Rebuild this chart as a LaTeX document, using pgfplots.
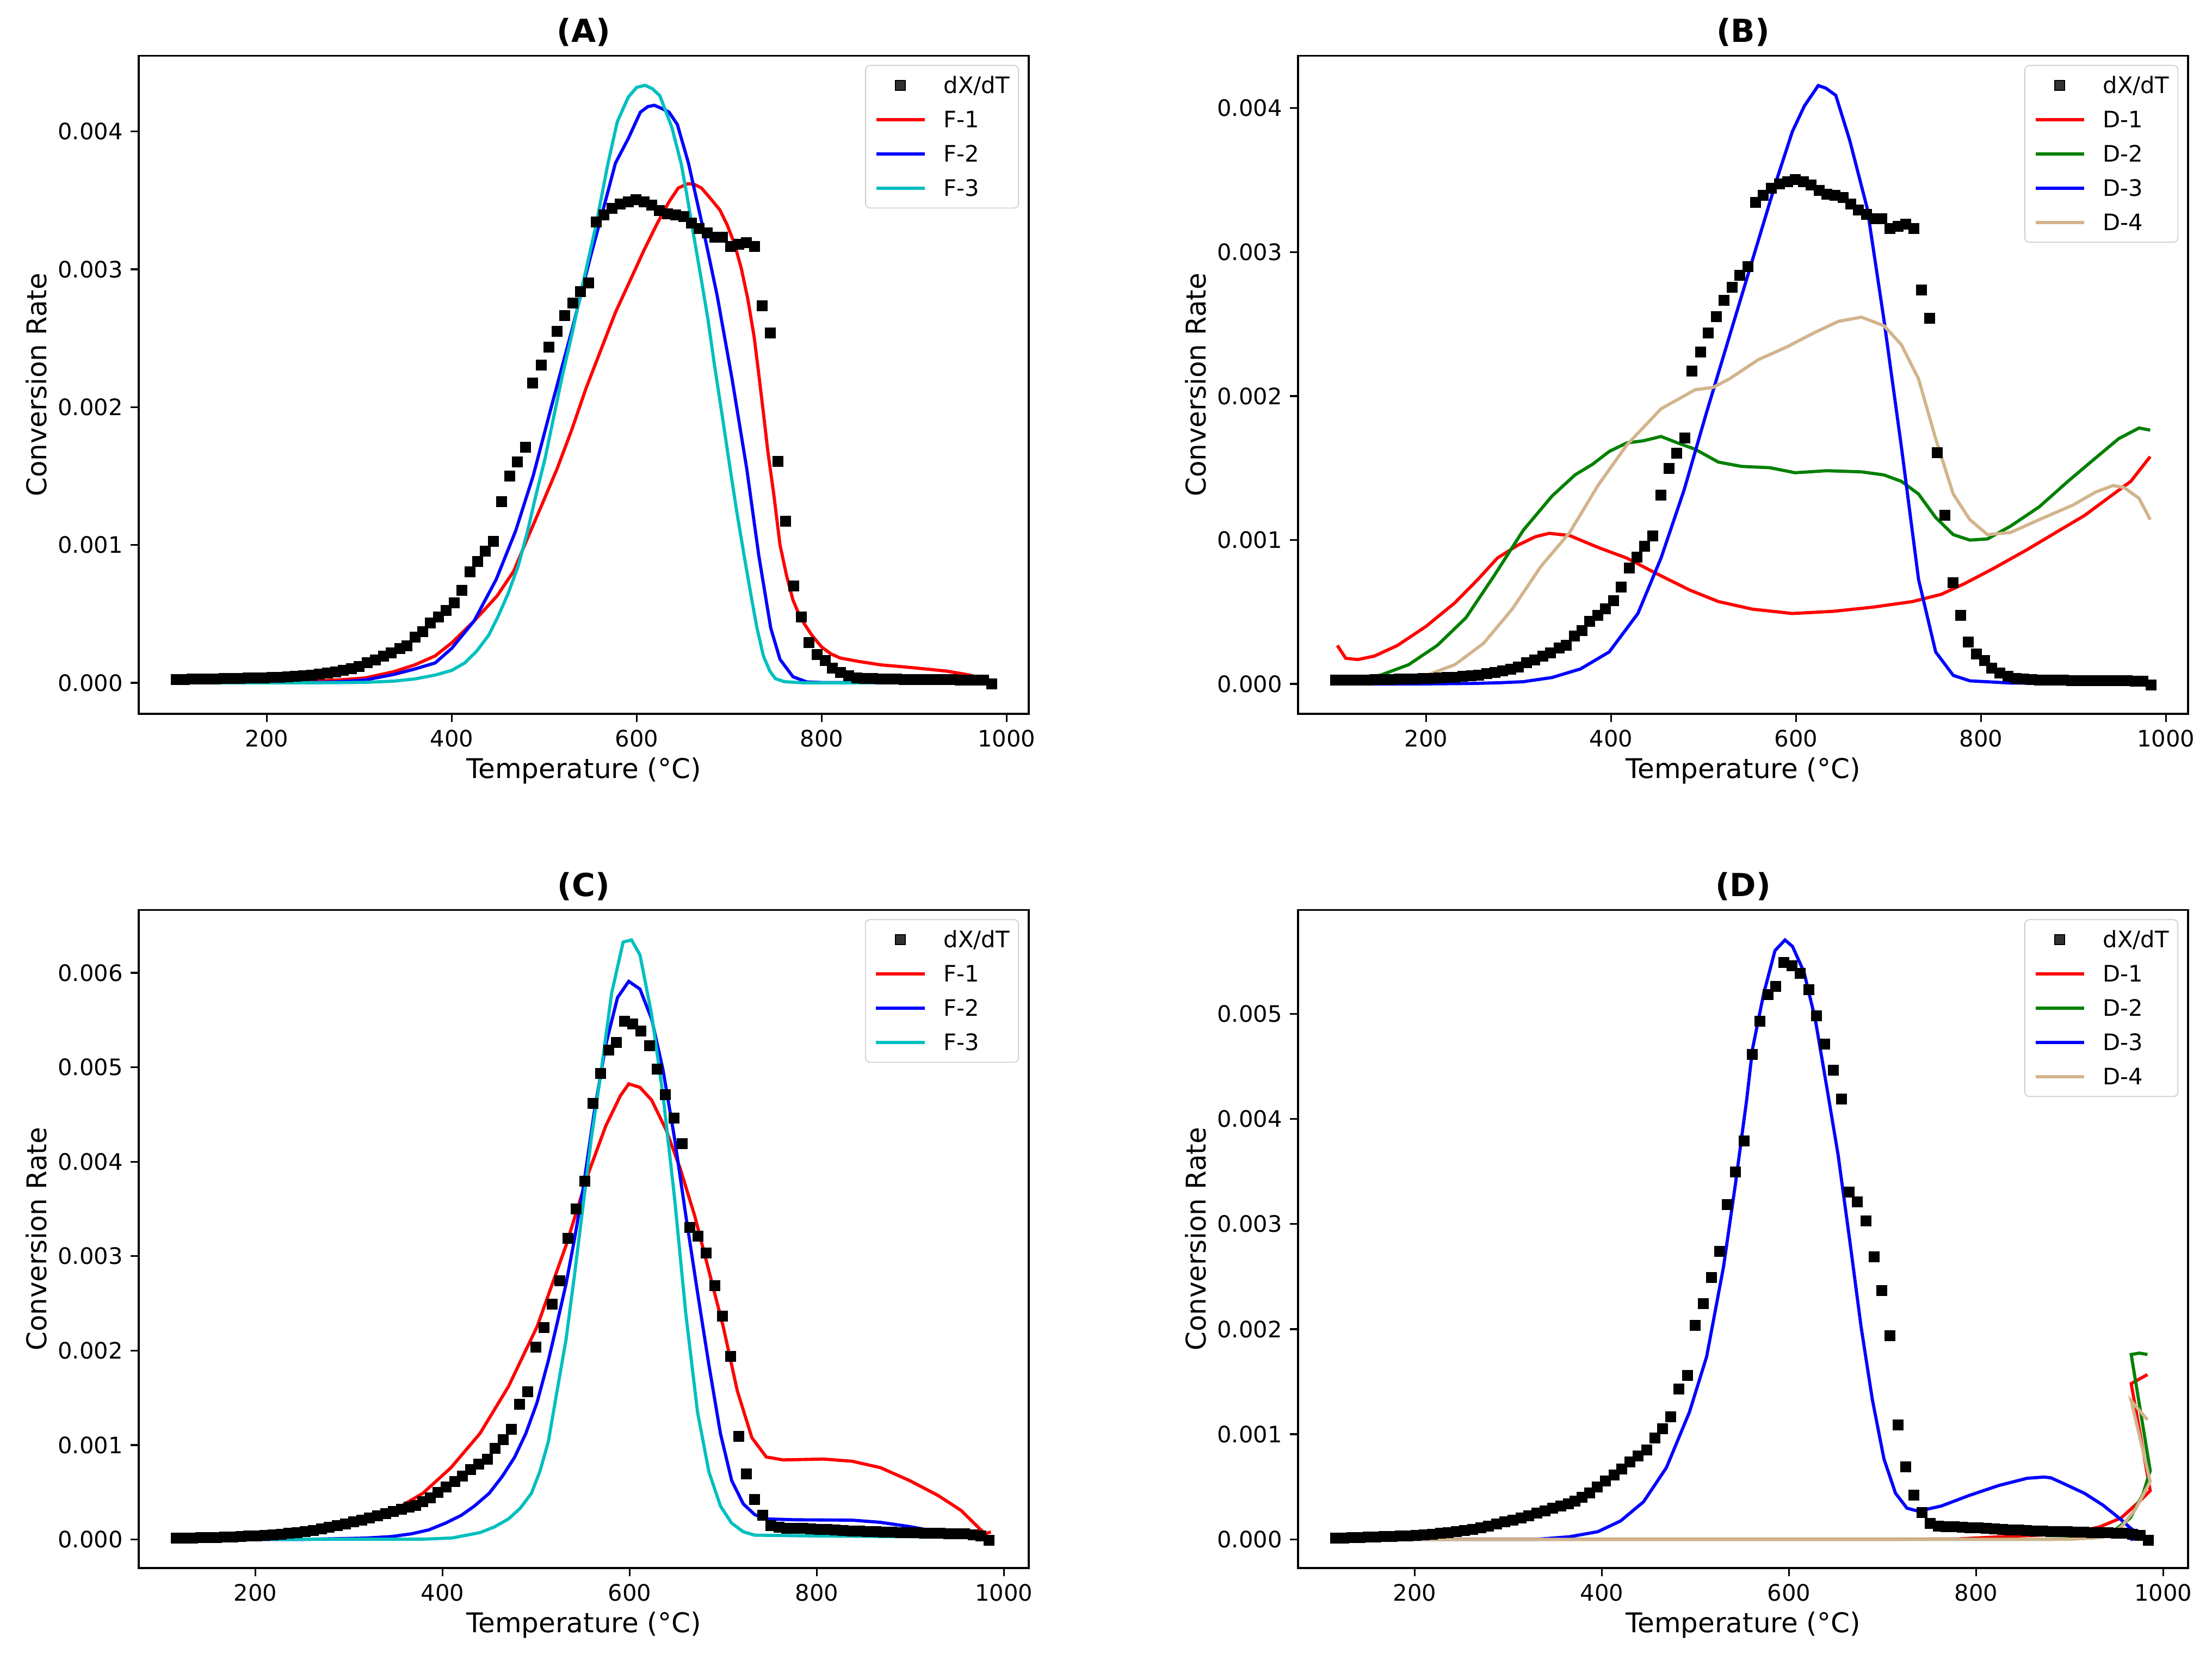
\documentclass[border=0pt]{standalone}
\usepackage{pgfplots}
\usepackage{pgfplotstable}
\pgfplotsset{compat=1.18}
\usepackage{fontspec}
\setmainfont{DejaVu Sans}
\definecolor{mplcyan}{rgb}{0,0.75,0.75}
\definecolor{mplgreen}{rgb}{0,0.5,0}
\definecolor{mpltan}{HTML}{D2B48C}

\pgfplotstableread{
T v
102.2 0.025e-3
110.8 0.025e-3
119.4 0.026e-3
128.0 0.027e-3
136.6 0.028e-3
145.2 0.029e-3
153.8 0.030e-3
162.4 0.031e-3
171.0 0.032e-3
179.6 0.034e-3
188.2 0.035e-3
196.8 0.037e-3
205.4 0.039e-3
214.0 0.041e-3
222.6 0.044e-3
231.2 0.047e-3
239.8 0.051e-3
248.4 0.056e-3
257.0 0.062e-3
265.6 0.070e-3
274.2 0.079e-3
282.8 0.090e-3
291.4 0.103e-3
300.0 0.118e-3
308.4 0.146e-3
317.6 0.167e-3
326.3 0.192e-3
334.4 0.217e-3
343.7 0.248e-3
351.7 0.269e-3
360.4 0.331e-3
368.4 0.372e-3
377.1 0.433e-3
385.8 0.477e-3
393.8 0.523e-3
402.5 0.579e-3
411.1 0.672e-3
419.8 0.805e-3
427.9 0.879e-3
436.5 0.957e-3
445.2 1.028e-3
453.9 1.313e-3
462.5 1.498e-3
471.2 1.604e-3
479.9 1.709e-3
487.3 2.173e-3
496.6 2.307e-3
505.3 2.437e-3
513.9 2.551e-3
522.0 2.663e-3
530.7 2.755e-3
539.3 2.839e-3
548.0 2.901e-3
556.0 3.344e-3
564.7 3.393e-3
573.4 3.443e-3
582.0 3.474e-3
590.7 3.489e-3
599.4 3.505e-3
608.0 3.489e-3
616.1 3.467e-3
624.8 3.427e-3
633.4 3.402e-3
642.1 3.396e-3
650.8 3.381e-3
659.4 3.334e-3
667.5 3.294e-3
676.2 3.263e-3
684.8 3.232e-3
692.9 3.232e-3
701.5 3.164e-3
710.2 3.180e-3
718.9 3.195e-3
727.6 3.164e-3
735.6 2.737e-3
744.3 2.539e-3
752.9 1.607e-3
761.0 1.173e-3
769.7 0.703e-3
778.3 0.477e-3
786.4 0.291e-3
795.0 0.207e-3
803.7 0.161e-3
811.8 0.108e-3
820.4 0.074e-3
829.1 0.053e-3
837.8 0.037e-3
846.4 0.033e-3
855.0 0.030e-3
863.6 0.028e-3
872.2 0.027e-3
880.8 0.026e-3
889.4 0.025e-3
898.0 0.024e-3
906.6 0.024e-3
915.2 0.023e-3
923.8 0.023e-3
932.4 0.022e-3
941.0 0.022e-3
949.6 0.021e-3
958.2 0.021e-3
966.8 0.020e-3
975.4 0.020e-3
984.0 -0.008e-3
}\dxA

\pgfplotstableread{
T v
115.5 0.012e-3
124.0 0.014e-3
133.0 0.016e-3
141.5 0.018e-3
150.0 0.020e-3
158.5 0.022e-3
167.0 0.025e-3
176.0 0.028e-3
184.5 0.031e-3
193.0 0.035e-3
201.5 0.039e-3
210.0 0.044e-3
219.0 0.050e-3
227.5 0.057e-3
236.0 0.065e-3
244.5 0.074e-3
253.0 0.085e-3
262.0 0.097e-3
270.5 0.111e-3
279.0 0.127e-3
287.5 0.145e-3
296.0 0.165e-3
305.0 0.185e-3
313.5 0.205e-3
322.0 0.226e-3
330.5 0.248e-3
339.0 0.272e-3
347.5 0.296e-3
356.0 0.318e-3
364.5 0.340e-3
371.0 0.362e-3
379.0 0.398e-3
386.7 0.443e-3
395.0 0.498e-3
404.0 0.557e-3
413.0 0.611e-3
421.5 0.670e-3
430.0 0.738e-3
438.7 0.796e-3
447.9 0.851e-3
456.4 0.964e-3
465.0 1.054e-3
473.6 1.167e-3
482.0 1.430e-3
491.3 1.561e-3
499.9 2.036e-3
508.4 2.244e-3
517.0 2.489e-3
525.6 2.742e-3
534.0 3.186e-3
542.7 3.498e-3
551.9 3.792e-3
560.5 4.615e-3
569.0 4.932e-3
577.6 5.181e-3
586.0 5.262e-3
594.7 5.489e-3
603.3 5.457e-3
611.9 5.385e-3
621.0 5.231e-3
629.6 4.982e-3
638.0 4.710e-3
647.4 4.462e-3
655.9 4.190e-3
664.5 3.303e-3
673.0 3.213e-3
682.0 3.032e-3
690.8 2.688e-3
699.4 2.367e-3
708.0 1.937e-3
716.5 1.090e-3
725.0 0.692e-3
733.7 0.421e-3
742.2 0.253e-3
750.8 0.149e-3
759.4 0.127e-3
768.0 0.120e-3
776.5 0.118e-3
785.0 0.115e-3
793.6 0.112e-3
802.0 0.108e-3
811.0 0.105e-3
819.5 0.100e-3
828.0 0.095e-3
837.0 0.090e-3
845.5 0.087e-3
854.0 0.084e-3
863.0 0.081e-3
871.5 0.078e-3
880.0 0.076e-3
889.0 0.074e-3
897.5 0.072e-3
906.0 0.070e-3
915.0 0.068e-3
923.5 0.066e-3
932.0 0.064e-3
941.0 0.062e-3
949.5 0.060e-3
958.0 0.058e-3
967.0 0.050e-3
975.5 0.036e-3
984.0 -0.010e-3
}\dxC

\pgfplotsset{
  panel/.style={
    scale only axis, width=392.64pt, height=290.2pt,
    anchor=south west,
    axis line style={line width=0.8pt},
    tick align=outside, tick pos=left,
    major tick length=3.5pt,
    tick style={line width=0.8pt, black},
    xtick={200,400,600,800,1000},
    x tick label style={/pgf/number format/.cd, 1000 sep={}, /tikz/.cd},
    scaled y ticks=false,
    y tick label style={/pgf/number format/.cd, fixed, fixed zerofill, precision=3, /tikz/.cd},
    /pgf/number format/assume math mode=true,
    tick label style={font=\fontsize{10}{12}\selectfont},
    xlabel={Temperature (°C)}, ylabel={Conversion Rate},
    label style={font=\fontsize{12}{14}\selectfont},
    xlabel style={at={(axis description cs:0.5,-0.0981)}, anchor=base},
    ylabel style={at={(axis description cs:-0.1037,0.5)}, anchor=base},
    title style={at={(axis description cs:0.5,1)}, anchor=base, font=\bfseries\fontsize{14}{17}\selectfont},
    legend cell align=left,
    legend style={at={(axis description cs:1,1)}, anchor=north east, xshift=-4.3pt, yshift=-4pt,
      draw=black!20, rounded corners=2pt, fill=white, fill opacity=0.8, text opacity=1,
      inner xsep=4pt, inner ysep=4.8pt, row sep=7.1pt, column sep=7.7pt,
      font=\fontsize{10}{12}\selectfont,
      nodes={inner sep=0pt, text height=7.6pt, text depth=0.4pt}},
    legend image code/.code={\draw[#1] (0pt,0pt) -- (21.4pt,0pt);},
  },
  dxstyle/.style={only marks, mark=square*, mark size=2.2pt, black,
    legend image code/.code={\draw[mark repeat=2,mark phase=2,#1] plot coordinates {(0pt,0pt) (10.7pt,0pt) (21.4pt,0pt)};}},
  ln/.style={no marks, line width=1.4pt, #1},
}

\begin{document}
\begin{tikzpicture}
\useasboundingbox (0,0) rectangle (975.84pt,729.6pt);

% ---------------- (A)
\begin{axis}[panel, at={(61.2pt,414.72pt)}, xmin=61.5, xmax=1024, ymin=-0.000225, ymax=0.004548,
  ytick={0,0.001,0.002,0.003,0.004}, title={(A)}]
\addplot[dxstyle] table[x=T,y=v] {\dxA};
\addlegendentry{dX/dT}
\addplot[ln=red] coordinates {
(102,0.003e-3) (150,0.003e-3) (200,0.005e-3) (250,0.012e-3) (280,0.022e-3) (306,0.035e-3)
(337,0.080e-3) (360,0.130e-3) (382,0.195e-3) (400,0.290e-3) (424,0.447e-3) (449,0.63e-3)
(467,0.81e-3) (482,1.05e-3) (498,1.30e-3) (514,1.554e-3) (530,1.84e-3) (545,2.133e-3)
(561,2.41e-3) (577,2.687e-3) (593,2.92e-3) (608,3.14e-3) (622,3.33e-3) (635,3.49e-3)
(645,3.59e-3) (655,3.62e-3) (661,3.62e-3) (670,3.59e-3) (679,3.52e-3) (690,3.43e-3)
(698,3.32e-3) (706,3.18e-3) (713,3.01e-3) (720,2.79e-3) (727,2.51e-3) (732,2.24e-3)
(737,1.96e-3) (742,1.67e-3) (748,1.38e-3) (755,1.00e-3) (762,0.78e-3) (769,0.60e-3)
(776,0.49e-3) (782,0.42e-3) (790,0.34e-3) (800,0.26e-3) (810,0.21e-3) (820,0.18e-3)
(840,0.155e-3) (864,0.13e-3) (890,0.115e-3) (913,0.10e-3) (935,0.085e-3) (957,0.06e-3)
(970,0.04e-3) (985,0.015e-3)};
\addlegendentry{F-1}
\addplot[ln=blue] coordinates {
(102,0) (200,0) (250,0.002e-3) (280,0.008e-3) (306,0.020e-3) (337,0.060e-3) (360,0.100e-3)
(382,0.144e-3) (400,0.25e-3) (424,0.447e-3) (448,0.749e-3) (469,1.10e-3) (488,1.50e-3)
(508,2.01e-3) (530,2.56e-3) (550,3.09e-3) (566,3.49e-3) (577,3.77e-3) (591,3.95e-3)
(604,4.14e-3) (612,4.18e-3) (619,4.19e-3) (626,4.17e-3) (635,4.14e-3) (644,4.05e-3)
(656,3.77e-3) (671,3.32e-3) (687,2.81e-3) (703,2.21e-3) (719,1.554e-3) (732,0.925e-3)
(745,0.396e-3) (755,0.17e-3) (769,0.044e-3) (784,0.006e-3) (800,0.002e-3) (900,0) (985,0)};
\addlegendentry{F-2}
\addplot[ln=mplcyan] coordinates {
(102,0) (250,0) (306,0.003e-3) (337,0.012e-3) (360,0.028e-3) (382,0.056e-3) (400,0.090e-3)
(414,0.144e-3) (427,0.23e-3) (440,0.346e-3) (450,0.48e-3) (461,0.648e-3) (472,0.85e-3)
(482,1.10e-3) (491,1.36e-3) (501,1.63e-3) (510,1.92e-3) (519,2.21e-3) (530,2.53e-3)
(540,2.84e-3) (548,3.08e-3) (556,3.32e-3) (569,3.77e-3) (579,4.07e-3) (591,4.25e-3)
(600,4.32e-3) (609,4.335e-3) (617,4.31e-3) (625,4.26e-3) (638,4.03e-3) (648,3.77e-3)
(654,3.55e-3) (661,3.27e-3) (669,2.96e-3) (677,2.64e-3) (684,2.31e-3) (692,1.96e-3)
(700,1.60e-3) (708,1.25e-3) (716,0.93e-3) (724,0.62e-3) (730,0.40e-3) (737,0.195e-3)
(744,0.085e-3) (750,0.03e-3) (760,0.008e-3) (780,0) (985,0)};
\addlegendentry{F-3}
\end{axis}

% ---------------- (B)
\begin{axis}[panel, at={(572.64pt,414.72pt)}, xmin=61.5, xmax=1024, ymin=-0.000208, ymax=0.004363,
  ytick={0,0.001,0.002,0.003,0.004}, title={(B)}]
\addplot[dxstyle] table[x=T,y=v] {\dxA};
\addlegendentry{dX/dT}
\addplot[ln=red] coordinates {
(104,0.267e-3) (113,0.178e-3) (126,0.169e-3) (144,0.193e-3) (169,0.267e-3) (200,0.400e-3)
(231,0.563e-3) (256,0.726e-3) (277,0.874e-3) (299,0.963e-3) (318,1.022e-3) (333,1.046e-3)
(355,1.031e-3) (386,0.948e-3) (417,0.874e-3) (448,0.770e-3) (485,0.652e-3) (516,0.572e-3)
(553,0.519e-3) (596,0.489e-3) (640,0.504e-3) (683,0.533e-3) (726,0.572e-3) (757,0.622e-3)
(782,0.696e-3) (813,0.800e-3) (850,0.933e-3) (881,1.052e-3) (912,1.170e-3) (937,1.289e-3)
(962,1.407e-3) (983,1.579e-3)};
\addlegendentry{D-1}
\addplot[ln=mplgreen] coordinates {
(104,0.039e-3) (150,0.059e-3) (181,0.133e-3) (212,0.267e-3) (243,0.459e-3) (274,0.756e-3)
(305,1.067e-3) (336,1.304e-3) (361,1.452e-3) (380,1.526e-3) (398,1.615e-3) (417,1.674e-3)
(435,1.689e-3) (454,1.719e-3) (472,1.674e-3) (491,1.630e-3) (516,1.541e-3) (541,1.511e-3)
(571.5,1.502e-3) (599,1.467e-3) (633,1.481e-3) (671,1.473e-3) (695,1.452e-3) (714,1.407e-3)
(732.5,1.319e-3) (751,1.156e-3) (770,1.037e-3) (788,0.999e-3) (807,1.007e-3) (832,1.096e-3)
(863,1.230e-3) (894,1.407e-3) (924,1.570e-3) (949,1.704e-3) (971,1.778e-3) (983,1.763e-3)};
\addlegendentry{D-2}
\addplot[ln=blue] coordinates {
(104,0) (200,0) (250,0.003e-3) (280,0.008e-3) (305,0.015e-3) (336,0.044e-3) (367,0.104e-3)
(398,0.222e-3) (429,0.489e-3) (454,0.874e-3) (479,1.348e-3) (503,1.881e-3) (528,2.415e-3)
(553,2.948e-3) (578,3.481e-3) (596,3.837e-3) (609,4.015e-3) (624,4.157e-3) (632,4.14e-3)
(643,4.089e-3) (658,3.778e-3) (677,3.304e-3) (695,2.533e-3) (714,1.644e-3) (732.5,0.726e-3)
(751,0.222e-3) (770,0.059e-3) (788,0.021e-3) (832,0.006e-3) (900,0.002e-3) (983,0)};
\addlegendentry{D-3}
\addplot[ln=mpltan] coordinates {
(104,0.009e-3) (150,0.021e-3) (200,0.059e-3) (231,0.133e-3) (262,0.281e-3) (293,0.519e-3)
(324,0.815e-3) (355,1.05e-3) (386,1.38e-3) (417,1.66e-3) (454,1.911e-3) (491,2.044e-3)
(510,2.059e-3) (528,2.119e-3) (559,2.252e-3) (590,2.341e-3) (621,2.444e-3) (646,2.519e-3)
(670.6,2.548e-3) (695,2.489e-3) (714,2.356e-3) (732.5,2.119e-3) (751,1.704e-3) (770,1.319e-3)
(788,1.141e-3) (807,1.037e-3) (832,1.052e-3) (863,1.141e-3) (900,1.244e-3) (924,1.333e-3)
(943,1.378e-3) (955,1.363e-3) (971,1.289e-3) (983,1.141e-3)};
\addlegendentry{D-4}
\end{axis}

% ---------------- (C)
\begin{axis}[panel, at={(61.2pt,37.92pt)}, xmin=75.3, xmax=1026.5, ymin=-0.000303, ymax=0.006664,
  ytick={0,0.001,0.002,0.003,0.004,0.005,0.006}, title={(C)}]
\addplot[dxstyle] table[x=T,y=v] {\dxC};
\addlegendentry{dX/dT}
\addplot[ln=red] coordinates {
(115,0) (195,0.027e-3) (256,0.072e-3) (290,0.12e-3) (317.5,0.195e-3) (348,0.308e-3)
(379,0.489e-3) (409,0.760e-3) (440,1.122e-3) (470.5,1.620e-3) (501,2.253e-3) (532,3.113e-3)
(556,3.882e-3) (574.5,4.380e-3) (590,4.697e-3) (599,4.824e-3) (611,4.787e-3) (623.5,4.652e-3)
(639,4.335e-3) (654,3.928e-3) (669.4,3.430e-3) (684.7,2.842e-3) (700,2.253e-3) (715,1.575e-3)
(730.6,1.077e-3) (746,0.873e-3) (764,0.842e-3) (807,0.851e-3) (837.7,0.828e-3) (868,0.760e-3)
(899,0.624e-3) (929.5,0.466e-3) (954,0.308e-3) (975,0.104e-3) (980,0.060e-3) (986,0.080e-3)};
\addlegendentry{F-1}
\addplot[ln=blue] coordinates {
(115,0) (250,0) (317.5,0.014e-3) (345,0.030e-3) (366.5,0.059e-3) (385,0.100e-3) (403,0.172e-3)
(420,0.255e-3) (434,0.353e-3) (450,0.49e-3) (464,0.670e-3) (477,0.87e-3) (489,1.122e-3)
(501,1.45e-3) (513,1.891e-3) (522,2.27e-3) (532,2.706e-3) (541,3.18e-3) (550,3.701e-3)
(562,4.516e-3) (574.5,5.240e-3)
(587,5.738e-3) (599,5.910e-3) (611,5.828e-3) (623.5,5.511e-3) (635.7,4.968e-3) (648,4.244e-3)
(660,3.430e-3) (672.5,2.615e-3) (684.7,1.846e-3) (697,1.122e-3) (709,0.624e-3) (721.4,0.376e-3)
(733.7,0.262e-3) (746,0.217e-3) (776.5,0.208e-3) (837.7,0.204e-3) (868,0.181e-3) (899,0.136e-3)
(929.5,0.081e-3) (960,0.027e-3) (987.6,0)};
\addlegendentry{F-2}
\addplot[ln=mplcyan] coordinates {
(115,0) (380,0.003e-3) (410,0.015e-3) (440,0.072e-3) (455,0.13e-3) (470.5,0.217e-3) (483,0.33e-3)
(495,0.489e-3) (504,0.72e-3) (513,1.032e-3) (522,1.55e-3)
(532,2.118e-3) (541,2.80e-3) (550,3.520e-3) (559,4.25e-3) (568.4,4.878e-3) (580.7,5.783e-3)
(593,6.326e-3) (602,6.348e-3)
(611,6.190e-3) (623.5,5.557e-3) (635.7,4.697e-3) (648,3.611e-3) (660,2.389e-3) (672.5,1.348e-3)
(684.7,0.715e-3) (697,0.353e-3) (709,0.172e-3) (721.4,0.081e-3) (733.7,0.045e-3) (807,0.036e-3)
(929.5,0.027e-3) (987.6,0.014e-3)};
\addlegendentry{F-3}
\end{axis}

% ---------------- (D)
\begin{axis}[panel, at={(572.64pt,37.92pt)}, xmin=75.3, xmax=1026.5, ymin=-0.000273, ymax=0.005987,
  ytick={0,0.001,0.002,0.003,0.004,0.005}, title={(D)}]
\addplot[dxstyle] table[x=T,y=v] {\dxC};
\addlegendentry{dX/dT}
\addplot[ln=red] coordinates {
(115,0) (700,0) (780,0.003e-3) (839,0.031e-3) (897,0.049e-3) (932,0.118e-3) (955,0.204e-3)
(974.4,0.360e-3) (986,0.463e-3) (965.7,1.482e-3) (983.1,1.568e-3)};
\addlegendentry{D-1}
\addplot[ln=mplgreen] coordinates {
(115,0) (880,0) (926,0.014e-3) (947.5,0.083e-3) (964.7,0.204e-3) (978.3,0.430e-3) (986,0.653e-3)
(965.7,1.759e-3) (974.4,1.772e-3) (983.1,1.759e-3)};
\addlegendentry{D-2}
\addplot[ln=blue] coordinates {
(115,0) (330,0) (365,0.024e-3) (395.7,0.073e-3) (420,0.175e-3) (444.6,0.358e-3) (469,0.683e-3)
(493.6,1.211e-3) (512,1.740e-3) (530,2.593e-3) (542.5,3.366e-3) (554.7,4.179e-3) (561,4.667e-3)
(573,5.195e-3) (585,5.602e-3) (595.7,5.703e-3) (603.7,5.642e-3) (616,5.398e-3) (628,4.951e-3)
(640.4,4.301e-3) (652.6,3.650e-3) (665,2.837e-3) (677,2.024e-3) (689,1.333e-3) (701.5,0.764e-3)
(713.8,0.439e-3) (726,0.297e-3) (738,0.268e-3) (762.7,0.317e-3) (793,0.419e-3) (824,0.512e-3)
(854.4,0.581e-3) (872.8,0.593e-3) (880,0.585e-3) (891,0.541e-3) (915.6,0.439e-3) (935.6,0.325e-3)
(955,0.187e-3) (964.7,0.109e-3) (974.4,0.049e-3) (983.1,0.014e-3) (964.7,0)};
\addlegendentry{D-3}
\addplot[ln=mpltan] coordinates {
(115,0) (900,0) (935.6,0.020e-3) (955,0.118e-3) (970.5,0.290e-3) (986,0.550e-3)
(965.7,1.318e-3) (983.1,1.137e-3)};
\addlegendentry{D-4}
\end{axis}
\end{tikzpicture}
\end{document}
